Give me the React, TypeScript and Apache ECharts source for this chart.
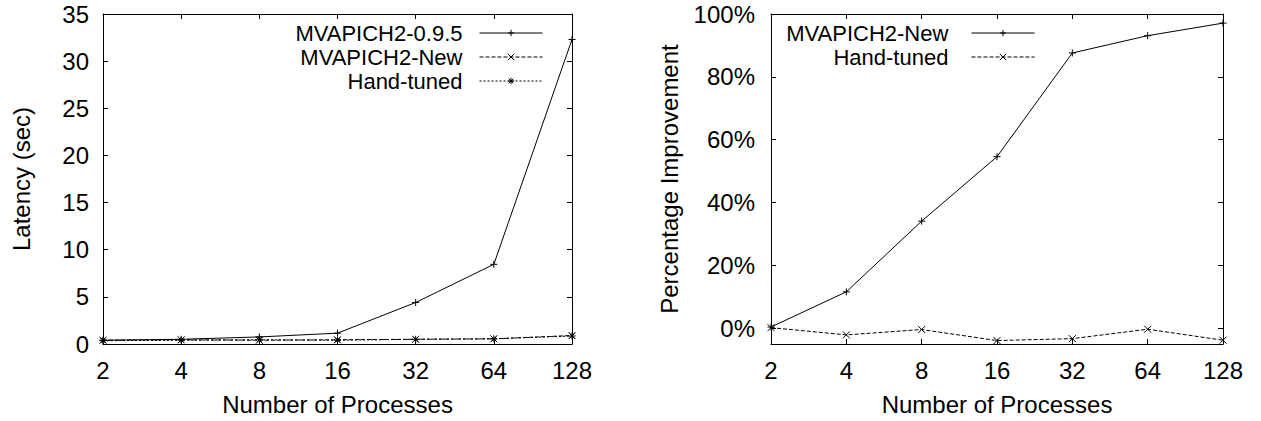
import React, { useEffect, useRef } from "react";
import * as echarts from "echarts";

const processes = ["2", "4", "8", "16", "32", "64", "128"];
const latencyOld = [0.4, 0.5, 0.75, 1.15, 4.4, 8.45, 32.3];
const latencyNew = [0.4, 0.45, 0.4, 0.45, 0.5, 0.55, 0.9];
const latencyHand = [0.35, 0.4, 0.45, 0.4, 0.5, 0.55, 0.85];
const improveNew = [0.4, 11.6, 34.1, 54.6, 87.6, 93.1, 97.1];
const improveHand = [0.2, -2.1, -0.4, -3.9, -3.3, -0.3, -3.8];
const leftTicks = [0, 5, 10, 15, 20, 25, 30, 35];
const rightTicks = [0, 20, 40, 60, 80, 100];

const FONT = "Liberation Sans";
const BLACK = "#000";
const FS = 24;
const LEGEND_FS = 22;

const plusSym = "path://M0,5L10,5M5,0L5,10";
const crossSym = "path://M1,1L9,9M1,9L9,1";
const starSym = "path://M0,5L10,5M5,0L5,10M1.5,1.5L8.5,8.5M1.5,8.5L8.5,1.5";

function series(name: string, data: number[], sym: string, dash: any, axisIdx: number) {
  return {
    type: "line",
    name,
    data,
    xAxisIndex: axisIdx,
    yAxisIndex: axisIdx,
    symbol: sym,
    symbolSize: 7,
    showAllSymbol: true,
    lineStyle: { color: BLACK, width: 1, type: dash },
    itemStyle: { color: "transparent", borderColor: BLACK, borderWidth: 1 },
    emphasis: { disabled: true },
  };
}

function legend(name: string, right: number, top: number) {
  return {
    data: [name],
    orient: "vertical",
    align: "right",
    right,
    top,
    padding: 0,
    itemWidth: 63,
    itemHeight: 8,
    selectedMode: false,
    lineStyle: { width: 1 },
    itemStyle: { borderWidth: 1 },
    textStyle: {
      fontFamily: FONT,
      fontSize: LEGEND_FS,
      lineHeight: 20,
      color: BLACK,
      padding: [0, 12, 0, 0],
    },
  };
}

export default function App() {
  const ref = useRef<HTMLDivElement>(null);
  useEffect(() => {
    document.body.style.margin = "0";
    const chart = echarts.init(ref.current!, null, { renderer: "svg" });
    const axisLabel = { fontFamily: FONT, fontSize: FS, color: BLACK, margin: 14 };
    const nameStyle = { fontFamily: FONT, fontSize: FS, color: BLACK };
    const axisLine = { show: true, onZero: false, lineStyle: { color: BLACK, width: 1 } };
    const tickIn = { show: true, inside: true, length: 5, lineStyle: { color: BLACK } };
    const xBase = (gridIndex: number) => ({
      type: "category",
      data: processes,
      boundaryGap: false,
      gridIndex,
      axisLine,
      splitLine: { show: false },
    });
    chart.setOption({
      animation: false,
      grid: [
        { left: 103, top: 14, width: 469, height: 330 },
        { left: 771, top: 14, width: 452, height: 331 },
      ],
      xAxis: [
        {
          ...xBase(0),
          position: "bottom",
          axisTick: tickIn,
          axisLabel,
          name: "Number of Processes",
          nameLocation: "middle",
          nameGap: 48,
          nameTextStyle: nameStyle,
        },
        {
          ...xBase(1),
          position: "bottom",
          axisTick: tickIn,
          axisLabel,
          name: "Number of Processes",
          nameLocation: "middle",
          nameGap: 48,
          nameTextStyle: nameStyle,
        },
        { ...xBase(0), position: "top", axisTick: tickIn, axisLabel: { show: false } },
        { ...xBase(1), position: "top", axisTick: tickIn, axisLabel: { show: false } },
      ],
      yAxis: [
        {
          type: "value",
          gridIndex: 0,
          min: 0,
          max: 35,
          interval: 5,
          axisLine,
          axisTick: tickIn,
          axisLabel,
          splitLine: { show: false },
          name: "Latency (sec)",
          nameLocation: "middle",
          nameGap: 70,
          nameTextStyle: nameStyle,
        },
        {
          type: "value",
          gridIndex: 1,
          min: -5,
          max: 100,
          axisLine,
          axisTick: { ...tickIn, customValues: rightTicks },
          axisLabel: { ...axisLabel, margin: 16, customValues: rightTicks, formatter: "{value}%" },
          splitLine: { show: false },
          name: "Percentage Improvement",
          nameLocation: "middle",
          nameGap: 90,
          nameTextStyle: nameStyle,
        },
        {
          type: "value",
          gridIndex: 0,
          position: "right",
          min: 0,
          max: 35,
          interval: 5,
          axisLine,
          axisTick: { ...tickIn, customValues: leftTicks },
          axisLabel: { show: false },
          splitLine: { show: false },
        },
        {
          type: "value",
          gridIndex: 1,
          position: "right",
          min: -5,
          max: 100,
          axisLine,
          axisTick: { ...tickIn, customValues: rightTicks },
          axisLabel: { show: false },
          splitLine: { show: false },
        },
      ],
      legend: [
        legend("MVAPICH2-0.9.5", 718, 22),
        legend("MVAPICH2-New", 718, 46),
        legend("Hand-tuned", 718, 70),
        legend("MVAPICH2-New ", 226, 22),
        legend("Hand-tuned ", 226, 46),
      ],
      series: [
        series("MVAPICH2-0.9.5", latencyOld, plusSym, "solid", 0),
        series("MVAPICH2-New", latencyNew, crossSym, [4, 2], 0),
        series("Hand-tuned", latencyHand, starSym, [2, 2], 0),
        series("MVAPICH2-New ", improveNew, plusSym, "solid", 1),
        series("Hand-tuned ", improveHand, crossSym, [4, 2], 1),
      ],
    });
    return () => chart.dispose();
  }, []);
  return <div ref={ref} style={{ width: 1261, height: 421 }} />;
}
